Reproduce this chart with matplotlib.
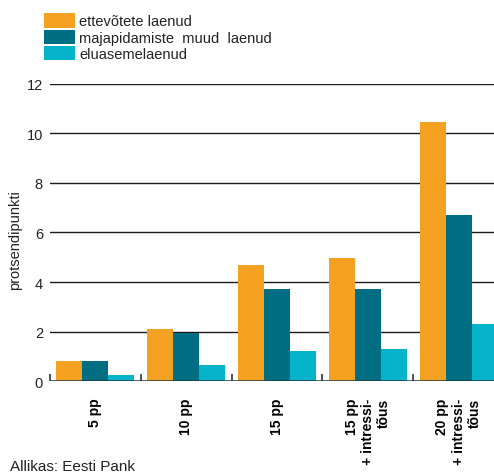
import numpy as np
import matplotlib
matplotlib.use("Agg")
import matplotlib.pyplot as plt

# ── Data ──────────────────────────────────────────────────────────────────────
categories = ["5 pp", "10 pp", "15 pp", "15 pp\n+ intressi-\ntõus", "20 pp\n+ intressi-\ntõus"]
ettevotete = [0.8, 2.1, 4.7, 4.97, 10.45]
majapidamiste = [0.8, 1.95, 3.73, 3.73, 6.7]
eluaseme = [0.25, 0.65, 1.2, 1.3, 2.3]
series_labels = ["ettevõtete laenud", "majapidamiste  muud  laenud", "eluasemelaenud"]

# ── Styling ───────────────────────────────────────────────────────────────────
COLORS = ["#F4A021", "#006E82", "#05B3CB"]
TEXT = "#222222"
plt.rcParams["font.family"] = ["Liberation Sans", "DejaVu Sans"]

fig = plt.figure(figsize=(4.94, 4.77), dpi=100)
ax = fig.add_axes([0.101, 0.199, 0.899, 0.623])

x = np.arange(len(categories))
w = 0.286
for vals, off, col, lab in zip([ettevotete, majapidamiste, eluaseme],
                               [-w, 0, w], COLORS, series_labels):
    ax.bar(x + off, vals, width=w, color=col, label=lab, zorder=3)

ax.set_xlim(-0.5, 4.39)
ax.set_ylim(0, 12)
ax.set_yticks(range(0, 13, 2))
for yv in range(2, 13, 2):
    ax.axhline(yv, color="#1a1a1a", lw=1.0, zorder=1)
ax.axhline(0, color="#1d3a40", lw=1.8, zorder=4)

for s in ax.spines.values():
    s.set_visible(False)

# group separators as small upward ticks, labels at centres
ax.set_xticks(np.arange(-0.5, 4.5, 1.0))
ax.set_xticklabels([])
ax.tick_params(axis="x", direction="in", length=5, width=1.2, color="#333333")
ax.set_xticks(x, minor=True)
ax.set_xticklabels(categories, minor=True, rotation=90, fontweight="bold",
                   fontsize=10, va="top", ha="center", multialignment="right")
ax.tick_params(axis="x", which="minor", length=0, pad=12)
ax.tick_params(axis="y", length=0, pad=5, labelsize=10.5, labelcolor=TEXT)

ax.set_ylabel("protsendipunkti", fontsize=10.5, color=TEXT)
ax.yaxis.set_label_coords(-0.062, 0.478)

leg = ax.legend(loc="upper left", bbox_to_anchor=(0.09, 0.97),
                bbox_transform=fig.transFigure, frameon=False, fontsize=10.5,
                handlelength=2.1, handleheight=1.15, labelspacing=0.08,
                handletextpad=0.3, borderpad=0, borderaxespad=0)
for t in leg.get_texts():
    t.set_color(TEXT)

fig.text(0.02, 0.012, "Allikas: Eesti Pank", fontsize=11, color=TEXT)

fig.savefig("out.png", dpi=100)
